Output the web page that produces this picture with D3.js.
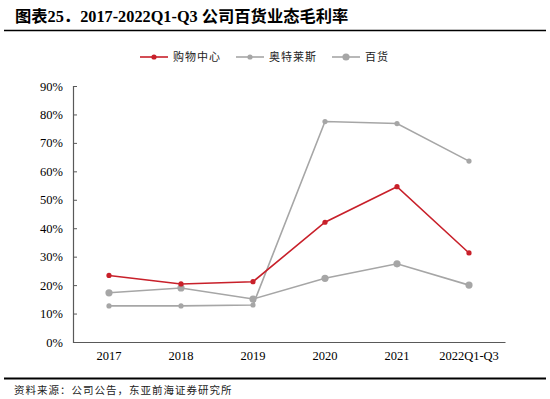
<!DOCTYPE html>
<html>
<head>
<meta charset="utf-8">
<script src="https://cdn.jsdelivr.net/npm/d3@7"></script>
<style>
  body { margin: 0; background: #fff; }
  svg { display: block; }
</style>
</head>
<body>
<svg id="chart" width="550" height="399"></svg>
<script>
var categories = ["2017", "2018", "2019", "2020", "2021", "2022Q1-Q3"];
var mall = [23.4, 20.4, 21.2, 42.1, 54.6, 31.3];      // 购物中心
var outlets = [12.7, 12.7, 13.0, 77.5, 76.8, 63.6];   // 奥特莱斯
var dept = [17.3, 19.0, 15.1, 22.4, 27.5, 20.0];      // 百货
var yTicks = [0, 10, 20, 30, 40, 50, 60, 70, 80, 90];

var series = [
    { name: "购物中心", values: mall, color: "#C8202A", r: 2.6 },
    { name: "奥特莱斯", values: outlets, color: "#A6A6A6", r: 2.6 },
    { name: "百货", values: dept, color: "#A6A6A6", r: 3.6 }
];

var svg = d3.select("#chart");
var serif = "'Liberation Serif', 'Times New Roman', serif";
var cjk = "'Noto Sans CJK SC', sans-serif";

// title
svg.append("text")
    .attr("x", 15).attr("y", 22)
    .style("font-family", serif + ", " + cjk)
    .style("font-weight", "bold")
    .style("font-size", "16.3px")
    .text("图表25．2017-2022Q1-Q3 公司百货业态毛利率");

svg.append("line")
    .attr("x1", 4).attr("x2", 546).attr("y1", 30.5).attr("y2", 30.5)
    .attr("stroke", "#000").attr("stroke-width", 1.4);

svg.append("line")
    .attr("x1", 4).attr("x2", 546).attr("y1", 378.5).attr("y2", 378.5)
    .attr("stroke", "#000").attr("stroke-width", 1.8);

svg.append("text")
    .attr("x", 14).attr("y", 394)
    .style("font-family", cjk)
    .style("font-size", "10.5px")
    .style("letter-spacing", "1px")
    .style("fill", "#222")
    .text("资料来源：公司公告，东亚前海证券研究所");

var x = d3.scaleBand().domain(categories).range([73, 505]);
var y = d3.scaleLinear().domain([0, 90]).range([342, 86]);

// y axis
var yAxis = svg.append("g")
    .attr("transform", "translate(73,0)")
    .call(d3.axisLeft(y).tickValues(yTicks).tickSize(-4).tickPadding(10)
        .tickFormat(function(d) { return d + "%"; }));
yAxis.select(".domain").attr("stroke", "#595959").attr("stroke-width", 1.2);
yAxis.selectAll(".tick line").attr("stroke", "#595959");
yAxis.selectAll("text")
    .style("font-family", serif).style("font-size", "12.5px").style("fill", "#000");

// x axis
var xAxis = svg.append("g")
    .attr("transform", "translate(0,342)")
    .call(d3.axisBottom(x).tickSize(0).tickPadding(9).tickSizeOuter(0));
xAxis.select(".domain").attr("stroke", "#595959").attr("stroke-width", 1.2);
xAxis.selectAll("text")
    .style("font-family", serif).style("font-size", "12.5px").style("fill", "#000");

var line = d3.line()
    .x(function(d, i) { return x(categories[i]) + x.bandwidth() / 2; })
    .y(function(d) { return y(d); });

// draw grey lines first, red on top
[series[1], series[2], series[0]].forEach(function(s) {
    svg.append("path")
        .datum(s.values)
        .attr("fill", "none")
        .attr("stroke", s.color)
        .attr("stroke-width", 1.6)
        .attr("d", line);
    svg.selectAll(null).data(s.values).enter().append("circle")
        .attr("cx", function(d, i) { return x(categories[i]) + x.bandwidth() / 2; })
        .attr("cy", function(d) { return y(d); })
        .attr("r", s.r)
        .attr("fill", s.color);
});

// legend
var legendX = [140, 236, 332];
series.forEach(function(s, i) {
    var g = svg.append("g").attr("transform", "translate(" + legendX[i] + ",57)");
    g.append("line").attr("x1", 0).attr("x2", 28).attr("y1", 0).attr("y2", 0)
        .attr("stroke", s.color).attr("stroke-width", 1.6);
    g.append("circle").attr("cx", 14).attr("cy", 0).attr("r", s.r).attr("fill", s.color);
    g.append("text").attr("x", 33).attr("y", 4)
        .style("font-family", cjk).style("font-size", "11px").style("fill", "#222")
        .style("letter-spacing", "1px")
        .text(s.name);
});
</script>
</body>
</html>
